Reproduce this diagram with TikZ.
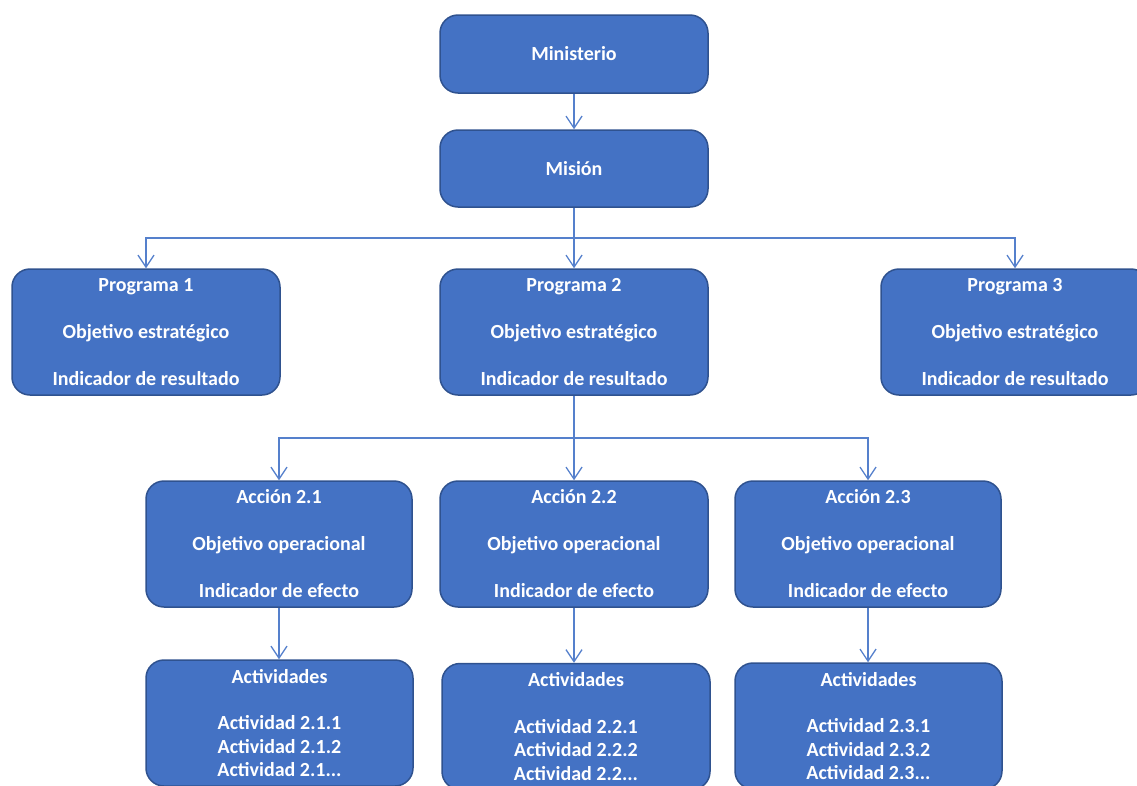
\documentclass[tikz,border=0pt]{standalone}
\usepackage{fontspec}
\setmainfont{Carlito}
\usetikzlibrary{arrows.meta}
\definecolor{boxfill}{HTML}{4472C4}
\definecolor{boxline}{HTML}{2F528F}
\definecolor{conn}{HTML}{5580CC}
\tikzset{
  box/.style={draw=boxline, line width=1.5pt, fill=boxfill, rounded corners=18pt,
    text=white, align=center, inner sep=0pt,
    font=\bfseries\fontsize{20}{47}\selectfont},
  actbox/.style={box, font=\bfseries\fontsize{20}{23.5}\selectfont},
  conline/.style={draw=conn, line width=1.3pt},
  arr/.style={conline, -{Straight Barb[length=12pt,width=16pt,line width=1.3pt]}}
}
\begin{document}
\begin{tikzpicture}[x=1pt,y=-1pt]
\useasboundingbox (0,0) rectangle (1137,785);
\clip (0,0) rectangle (1137,785);
\node[box, minimum width=268pt, minimum height=78pt] (min) at (574,54) {Ministerio};
\node[box, minimum width=268pt, minimum height=77pt] (mis) at (574,168.5) {Misión};
\node[box, minimum width=268pt, minimum height=126pt] (p1) at (146,332) {Programa 1\\Objetivo estratégico\\Indicador de resultado};
\node[box, minimum width=268pt, minimum height=126pt] (p2) at (574,332) {Programa 2\\Objetivo estratégico\\Indicador de resultado};
\node[box, minimum width=268pt, minimum height=126pt] (p3) at (1015,332) {Programa 3\\Objetivo estratégico\\Indicador de resultado};
\node[box, minimum width=266pt, minimum height=126pt] (a1) at (279,544) {Acción 2.1\\Objetivo operacional\\Indicador de efecto};
\node[box, minimum width=268pt, minimum height=126pt] (a2) at (574,544) {Acción 2.2\\Objetivo operacional\\Indicador de efecto};
\node[box, minimum width=266pt, minimum height=126pt] (a3) at (868,544) {Acción 2.3\\Objetivo operacional\\Indicador de efecto};
\node[actbox, minimum width=267pt, minimum height=126pt] (t1) at (279.5,723) {Actividades\\[23pt]Actividad 2.1.1\\Actividad 2.1.2\\Actividad 2.1...};
\node[actbox, minimum width=268pt, minimum height=126pt] (t2) at (576,726.5) {Actividades\\[23pt]Actividad 2.2.1\\Actividad 2.2.2\\Actividad 2.2...};
\node[actbox, minimum width=267pt, minimum height=126pt] (t3) at (868.5,726) {Actividades\\[23pt]Actividad 2.3.1\\Actividad 2.3.2\\Actividad 2.3...};
\coordinate (j1) at (574,238);
\coordinate (j2) at (574,438);
\draw[arr] (min.south) -- (mis.north);
\draw[conline] (mis.south) -- (j1);
\draw[arr] (j1) -| (p1.north);
\draw[arr] (j1) -- (p2.north);
\draw[arr] (j1) -| (p3.north);
\draw[conline] (p2.south) -- (j2);
\draw[arr] (j2) -| (a1.north);
\draw[arr] (j2) -- (a2.north);
\draw[arr] (j2) -| (a3.north);
\draw[arr] (a1.south) -- (a1.south |- t1.north);
\draw[arr] (a2.south) -- (a2.south |- t2.north);
\draw[arr] (a3.south) -- (a3.south |- t3.north);
\end{tikzpicture}
\end{document}
